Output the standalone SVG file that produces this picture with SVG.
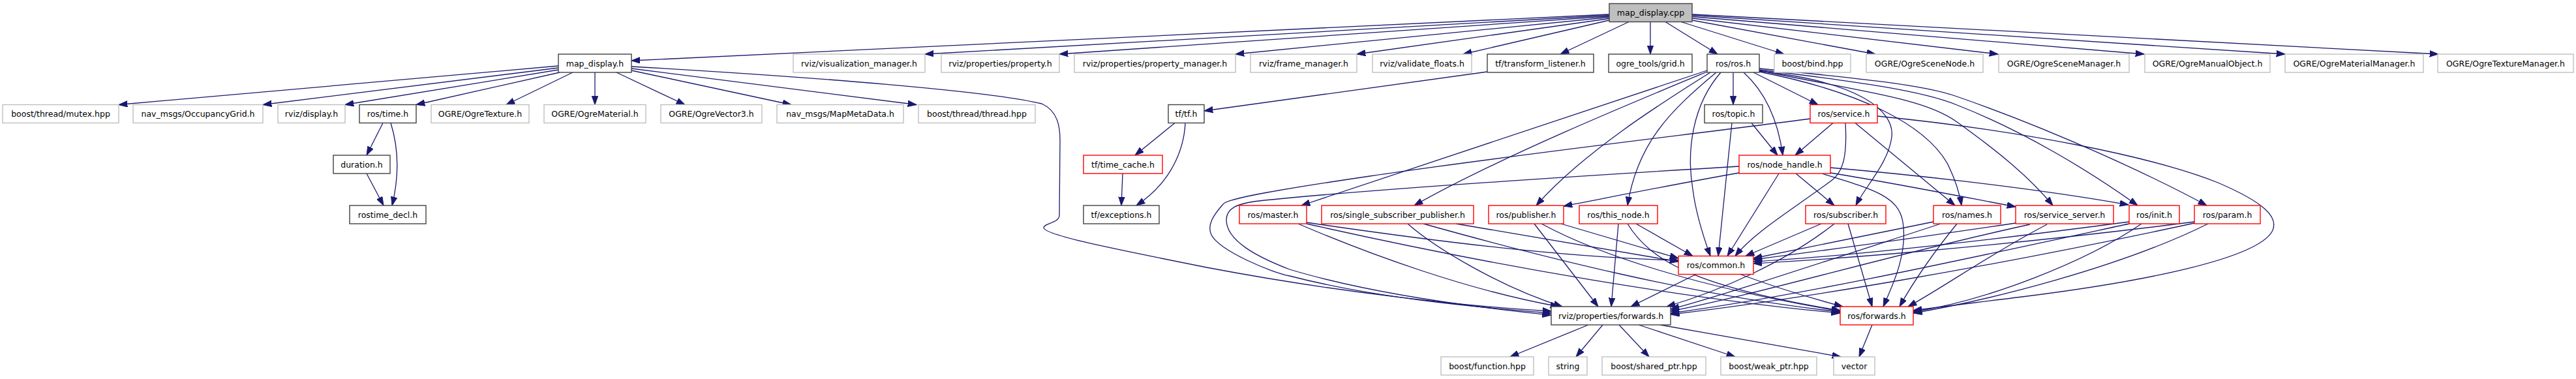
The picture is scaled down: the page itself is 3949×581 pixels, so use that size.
<svg xmlns="http://www.w3.org/2000/svg" width="3949" height="581" viewBox="0 0 3949 581">
<style>
.e{fill:none;stroke:#191970;stroke-width:1.3;marker-end:url(#ah)}
.n rect{fill:#fff;stroke-width:1.4}
.g rect{stroke:#bfbfbf}
.k rect{stroke:#404040}
.r rect{stroke:#ff0000}
.root rect{fill:#bfbfbf;stroke:#404040;stroke-width:1.4}
text{font-family:"DejaVu Sans","Liberation Sans",sans-serif;font-size:12.5px;fill:#000;text-anchor:middle}
</style>
<defs>
<marker id="ah" markerUnits="userSpaceOnUse" markerWidth="15" markerHeight="11" refX="13.3" refY="5" orient="auto">
<path d="M0,0.3 L13.3,5 L0,9.7 z" fill="#191970" stroke="#191970" stroke-width="1"/>
</marker>
</defs>
<rect width="3949" height="581" fill="#fff"/>
<g id="edges">
<path class="e" d="M2467,22 L968,93"/>
<path class="e" d="M2467,23.5 L1418,83"/>
<path class="e" d="M2467,25 L1624,83"/>
<path class="e" d="M2467,26.5 L1894,83"/>
<path class="e" d="M2467,28.5 L2080,83"/>
<path class="e" d="M2467,31 L2243,83"/>
<path class="e" d="M2497,33.5 L2392,83"/>
<path class="e" d="M2530,33.5 L2530,83"/>
<path class="e" d="M2553,33.5 L2633,83"/>
<path class="e" d="M2577,33.5 L2735,83"/>
<path class="e" d="M2594,31 L2875,83"/>
<path class="e" d="M2594,28 L3063,83"/>
<path class="e" d="M2594,25.5 L3287,83"/>
<path class="e" d="M2594,23.5 L3503,83"/>
<path class="e" d="M2594,22 L3738,83"/>
<path class="e" d="M856,101 L182,160.5"/>
<path class="e" d="M856,104 L403,160.5"/>
<path class="e" d="M856,107 L529,160.5"/>
<path class="e" d="M858,111 L638,160.5"/>
<path class="e" d="M878,111 L776,160.5"/>
<path class="e" d="M912,111 L912,160.5"/>
<path class="e" d="M945,111 L1050,160.5"/>
<path class="e" d="M968,108 L1213,160.5"/>
<path class="e" d="M968,105 L1405,160.5"/>
<path class="e" d="M968,102 C1250,118 1520,140 1597,159 C1622,170 1625,195 1625,215 L1624,330 C1624,342 1600,342 1600,349 C1600,360 1700,380 1850,410 C2050,448 2250,470 2378,477"/>
<path class="e" d="M587,188.5 L562,238"/>
<path class="e" d="M599,188.5 C612,230 612,270 601,315"/>
<path class="e" d="M562,266 L588,315"/>
<path class="e" d="M2280,110 L1846,170"/>
<path class="e" d="M1801,188.5 L1740,238"/>
<path class="e" d="M1817,188.5 C1815,230 1795,280 1742,315"/>
<path class="e" d="M1721,266 L1719,315"/>
<path class="e" d="M2657,111 L2657,160.5"/>
<path class="e" d="M2688,111 L2787,160.5"/>
<path class="e" d="M2673,111 C2705,140 2725,180 2733,238"/>
<path class="e" d="M2638,111 C2595,160 2585,230 2595,290 C2600,330 2612,365 2622,392.5"/>
<path class="e" d="M2631,111 C2560,170 2510,220 2495,315"/>
<path class="e" d="M2617,108 L1995,315"/>
<path class="e" d="M2617,110 C2520,150 2300,240 2168,315"/>
<path class="e" d="M2622,111 C2560,150 2430,230 2355,315"/>
<path class="e" d="M2697,109 C2850,125 2905,170 2900,210 C2895,250 2860,285 2845,315"/>
<path class="e" d="M2697,110 C2850,140 2950,190 2985,250 C2995,270 3003,290 3007,315"/>
<path class="e" d="M2697,108 C2850,140 2950,150 3000,187 C3060,230 3110,270 3147,315"/>
<path class="e" d="M2697,107 C2850,125 2950,140 3000,161 C3100,200 3200,260 3277,315"/>
<path class="e" d="M2697,105 C2850,120 2950,130 3000,148 C3150,200 3300,270 3383,315"/>
<path class="e" d="M2685,188.5 L2725,238"/>
<path class="e" d="M2655,188.5 L2634,392.5"/>
<path class="e" d="M2810,188.5 L2752,238"/>
<path class="e" d="M2829,188.5 C2832,240 2825,262 2810,275 C2750,320 2690,355 2660,392.5"/>
<path class="e" d="M2844,188.5 L2997,315"/>
<path class="e" d="M2775,182 C2600,205 2300,240 2100,270 C1950,292 1880,305 1875,313 C1860,330 1850,345 1857,360 C1870,385 1950,418 1977,423 C2100,455 2250,470 2378,480"/>
<path class="e" d="M2878,178 C3100,200 3300,240 3400,280 C3470,310 3495,333 3483,355 C3460,395 3300,430 3100,455 C3020,465 2960,472 2933,476"/>
<path class="e" d="M2727,266 L2648,392.5"/>
<path class="e" d="M2753,266 L2812,315"/>
<path class="e" d="M2793,266 C2870,290 2910,300 2917,340 C2925,390 2900,440 2887,470"/>
<path class="e" d="M2806,257 C2900,265 3100,285 3263,314"/>
<path class="e" d="M2806,265 C2900,280 3000,300 3090,317"/>
<path class="e" d="M2666,265 C2580,280 2480,300 2397,316"/>
<path class="e" d="M2666,255 C2500,265 2100,290 1930,308 C1895,312 1880,320 1880,337 C1880,370 1930,395 1977,413 C2100,450 2250,470 2378,483"/>
<path class="e" d="M2003,341 C2200,370 2400,395 2573,399"/>
<path class="e" d="M2003,343 C2300,410 2600,460 2821,480"/>
<path class="e" d="M1990,343 C2100,390 2250,445 2390,470"/>
<path class="e" d="M2232,343 L2573,401"/>
<path class="e" d="M2182,343 C2350,390 2600,455 2821,478"/>
<path class="e" d="M2158,343 C2200,380 2300,440 2395,470"/>
<path class="e" d="M2393,343 L2573,396"/>
<path class="e" d="M2363,343 C2450,390 2600,440 2821,477"/>
<path class="e" d="M2352,343 L2450,470"/>
<path class="e" d="M2508,343 L2595,392.5"/>
<path class="e" d="M2495,343 C2530,400 2600,440 2821,476"/>
<path class="e" d="M2481,343 L2470,470"/>
<path class="e" d="M2792,343 L2676,392.5"/>
<path class="e" d="M2812,343 C2740,400 2640,445 2555,470"/>
<path class="e" d="M2833,343 L2870,470"/>
<path class="e" d="M2964,340 L2688,396"/>
<path class="e" d="M2975,343 C2800,400 2650,450 2561,474"/>
<path class="e" d="M3000,343 C2970,380 2940,420 2912,470"/>
<path class="e" d="M3090,342 C2900,370 2750,390 2688,398"/>
<path class="e" d="M3112,344 C2900,390 2700,450 2561,477"/>
<path class="e" d="M3138,344 C3050,390 2980,440 2925,470"/>
<path class="e" d="M3264,340 C3000,375 2800,395 2688,401"/>
<path class="e" d="M3264,343 C3000,400 2750,455 2561,480"/>
<path class="e" d="M3283,343 C3200,400 3050,460 2933,478"/>
<path class="e" d="M3364,340 C3050,380 2800,398 2688,404"/>
<path class="e" d="M3364,342 C3050,410 2750,460 2561,482"/>
<path class="e" d="M3385,343 C3250,410 3050,460 2933,480"/>
<path class="e" d="M2600,420.5 L2500,470"/>
<path class="e" d="M2668,420.5 C2720,440 2780,458 2825,470"/>
<path class="e" d="M2435,498 L2315,547"/>
<path class="e" d="M2457,498 L2416,547"/>
<path class="e" d="M2482,498 L2528,547"/>
<path class="e" d="M2512,498 L2660,547"/>
<path class="e" d="M2545,498 L2822,547"/>
<path class="e" d="M2870,498 L2850,547"/>
</g>
<g id="n_cpp" class="n root"><rect x="2467" y="5.5" width="127" height="28"/><text x="2530.5" y="24">map_display.cpp</text></g>
<g id="n_mdh" class="n k"><rect x="856" y="83" width="112" height="28"/><text x="912" y="101.5">map_display.h</text></g>
<g id="n_vm" class="n g"><rect x="1216" y="83" width="202" height="28"/><text x="1317" y="101.5">rviz/visualization_manager.h</text></g>
<g id="n_prop" class="n g"><rect x="1443" y="83" width="181" height="28"/><text x="1533.5" y="101.5">rviz/properties/property.h</text></g>
<g id="n_pm" class="n g"><rect x="1647" y="83" width="247" height="28"/><text x="1770.5" y="101.5">rviz/properties/property_manager.h</text></g>
<g id="n_fm" class="n g"><rect x="1917" y="83" width="163" height="28"/><text x="1998.5" y="101.5">rviz/frame_manager.h</text></g>
<g id="n_vf" class="n g"><rect x="2104" y="83" width="152" height="28"/><text x="2180" y="101.5">rviz/validate_floats.h</text></g>
<g id="n_tl" class="n k"><rect x="2280" y="83" width="163" height="28"/><text x="2361.5" y="101.5">tf/transform_listener.h</text></g>
<g id="n_grid" class="n k"><rect x="2466" y="83" width="128" height="28"/><text x="2530" y="101.5">ogre_tools/grid.h</text></g>
<g id="n_ros" class="n k"><rect x="2617" y="83" width="80" height="28"/><text x="2657" y="101.5">ros/ros.h</text></g>
<g id="n_bind" class="n g"><rect x="2720" y="83" width="117" height="28"/><text x="2778.5" y="101.5">boost/bind.hpp</text></g>
<g id="n_sn" class="n g"><rect x="2861" y="83" width="179" height="28"/><text x="2950.5" y="101.5">OGRE/OgreSceneNode.h</text></g>
<g id="n_sm" class="n g"><rect x="3064" y="83" width="200" height="28"/><text x="3164" y="101.5">OGRE/OgreSceneManager.h</text></g>
<g id="n_mo" class="n g"><rect x="3288" y="83" width="192" height="28"/><text x="3384" y="101.5">OGRE/OgreManualObject.h</text></g>
<g id="n_mm" class="n g"><rect x="3503" y="83" width="212" height="28"/><text x="3609" y="101.5">OGRE/OgreMaterialManager.h</text></g>
<g id="n_tm" class="n g"><rect x="3737" y="83" width="208" height="28"/><text x="3841" y="101.5">OGRE/OgreTextureManager.h</text></g>
<g id="n_mutex" class="n g"><rect x="4" y="160.5" width="178" height="28"/><text x="93" y="179">boost/thread/mutex.hpp</text></g>
<g id="n_og" class="n g"><rect x="204" y="160.5" width="199" height="28"/><text x="303.5" y="179">nav_msgs/OccupancyGrid.h</text></g>
<g id="n_disp" class="n g"><rect x="426" y="160.5" width="103" height="28"/><text x="477.5" y="179">rviz/display.h</text></g>
<g id="n_time" class="n k"><rect x="551" y="160.5" width="87" height="28"/><text x="594.5" y="179">ros/time.h</text></g>
<g id="n_otex" class="n g"><rect x="661" y="160.5" width="150" height="28"/><text x="736" y="179">OGRE/OgreTexture.h</text></g>
<g id="n_omat" class="n g"><rect x="834" y="160.5" width="156" height="28"/><text x="912" y="179">OGRE/OgreMaterial.h</text></g>
<g id="n_ovec" class="n g"><rect x="1013" y="160.5" width="155" height="28"/><text x="1090.5" y="179">OGRE/OgreVector3.h</text></g>
<g id="n_mmd" class="n g"><rect x="1191" y="160.5" width="194" height="28"/><text x="1288" y="179">nav_msgs/MapMetaData.h</text></g>
<g id="n_thr" class="n g"><rect x="1408" y="160.5" width="179" height="28"/><text x="1497.5" y="179">boost/thread/thread.hpp</text></g>
<g id="n_tf" class="n k"><rect x="1791" y="160.5" width="55" height="28"/><text x="1818.5" y="179">tf/tf.h</text></g>
<g id="n_topic" class="n k"><rect x="2613" y="160.5" width="89" height="28"/><text x="2657.5" y="179">ros/topic.h</text></g>
<g id="n_service" class="n r"><rect x="2775" y="160.5" width="103" height="28"/><text x="2826.5" y="179">ros/service.h</text></g>
<g id="n_dur" class="n k"><rect x="511" y="238" width="87" height="28"/><text x="554.5" y="256.5">duration.h</text></g>
<g id="n_tc" class="n r"><rect x="1661" y="238" width="121" height="28"/><text x="1721.5" y="256.5">tf/time_cache.h</text></g>
<g id="n_nh" class="n r"><rect x="2666" y="238" width="140" height="28"/><text x="2736" y="256.5">ros/node_handle.h</text></g>
<g id="n_rtd" class="n k"><rect x="536" y="315" width="117" height="28"/><text x="594.5" y="333.5">rostime_decl.h</text></g>
<g id="n_exc" class="n k"><rect x="1661" y="315" width="116" height="28"/><text x="1719" y="333.5">tf/exceptions.h</text></g>
<g id="n_master" class="n r"><rect x="1900" y="315" width="103" height="28"/><text x="1951.5" y="333.5">ros/master.h</text></g>
<g id="n_ssp" class="n r"><rect x="2026" y="315" width="233" height="28"/><text x="2142.5" y="333.5">ros/single_subscriber_publisher.h</text></g>
<g id="n_pub" class="n r"><rect x="2282" y="315" width="115" height="28"/><text x="2339.5" y="333.5">ros/publisher.h</text></g>
<g id="n_tn" class="n r"><rect x="2421" y="315" width="120" height="28"/><text x="2481" y="333.5">ros/this_node.h</text></g>
<g id="n_sub" class="n r"><rect x="2768" y="315" width="123" height="28"/><text x="2829.5" y="333.5">ros/subscriber.h</text></g>
<g id="n_names" class="n r"><rect x="2964" y="315" width="103" height="28"/><text x="3015.5" y="333.5">ros/names.h</text></g>
<g id="n_ss" class="n r"><rect x="3090" y="315" width="150" height="28"/><text x="3165" y="333.5">ros/service_server.h</text></g>
<g id="n_init" class="n r"><rect x="3264" y="315" width="77" height="28"/><text x="3302.5" y="333.5">ros/init.h</text></g>
<g id="n_param" class="n r"><rect x="3364" y="315" width="101" height="28"/><text x="3414.5" y="333.5">ros/param.h</text></g>
<g id="n_common" class="n r"><rect x="2573" y="392.5" width="115" height="28"/><text x="2630.5" y="411">ros/common.h</text></g>
<g id="n_rfwd" class="n k"><rect x="2378" y="470" width="183" height="28"/><text x="2469.5" y="488.5">rviz/properties/forwards.h</text></g>
<g id="n_fwd" class="n r"><rect x="2821" y="470" width="112" height="28"/><text x="2877" y="488.5">ros/forwards.h</text></g>
<g id="n_func" class="n g"><rect x="2209" y="547" width="142" height="28"/><text x="2280" y="565.5">boost/function.hpp</text></g>
<g id="n_str" class="n g"><rect x="2374" y="547" width="59" height="28"/><text x="2403.5" y="565.5">string</text></g>
<g id="n_sp" class="n g"><rect x="2456" y="547" width="159" height="28"/><text x="2535.5" y="565.5">boost/shared_ptr.hpp</text></g>
<g id="n_wp" class="n g"><rect x="2638" y="547" width="147" height="28"/><text x="2711.5" y="565.5">boost/weak_ptr.hpp</text></g>
<g id="n_vec" class="n g"><rect x="2811" y="547" width="63" height="28"/><text x="2842.5" y="565.5">vector</text></g>
</svg>
